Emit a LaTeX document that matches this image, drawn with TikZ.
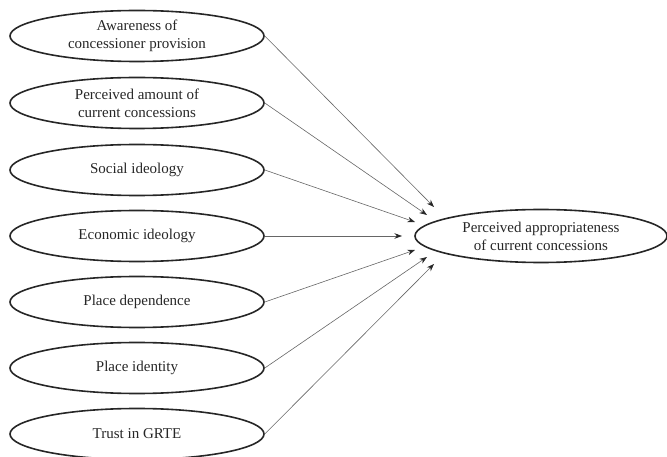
\documentclass[tikz,border=0pt]{standalone}
\usepackage{fontspec}
\setmainfont{Liberation Serif}
\usetikzlibrary{shapes.geometric,arrows.meta}
\tikzset{
  factor/.style={draw=black!85, line width=1.6pt, ellipse, inner sep=0pt,
    minimum width=254pt, minimum height=51pt, align=center,
    font=\fontsize{15}{18}\selectfont, text=black!85},
  link/.style={draw=black!60, line width=0.6pt,
    -{Stealth[length=7.5pt,width=5.5pt,color=black!85]}}
}
\begin{document}
\begin{tikzpicture}[x=1pt,y=-1pt]
\useasboundingbox (0,0) rectangle (667,457);
\node[factor] (a1) at (137,36) {Awareness of\\concessioner provision};
\node[factor] (a2) at (137,103) {Perceived amount of\\current concessions};
\node[factor] (a3) at (137,170) {Social ideology};
\node[factor] (a4) at (137,236) {Economic ideology};
\node[factor] (a5) at (137,302) {Place dependence};
\node[factor] (a6) at (137,368) {Place identity};
\node[factor] (a7) at (137,434) {Trust in GRTE};
\node[factor, minimum width=252pt, minimum height=53pt] (t) at (541,236) {Perceived appropriateness\\of current concessions};
\coordinate (e1) at (434,207);
\coordinate (e2) at (427,215);
\coordinate (e3) at (415,222);
\coordinate (e4) at (402,236);
\coordinate (e5) at (415,250);
\coordinate (e6) at (427,257);
\coordinate (e7) at (434,264);
\foreach \i in {1,...,7} {\draw[link] (a\i.east) -- (e\i);}
\end{tikzpicture}
\end{document}
